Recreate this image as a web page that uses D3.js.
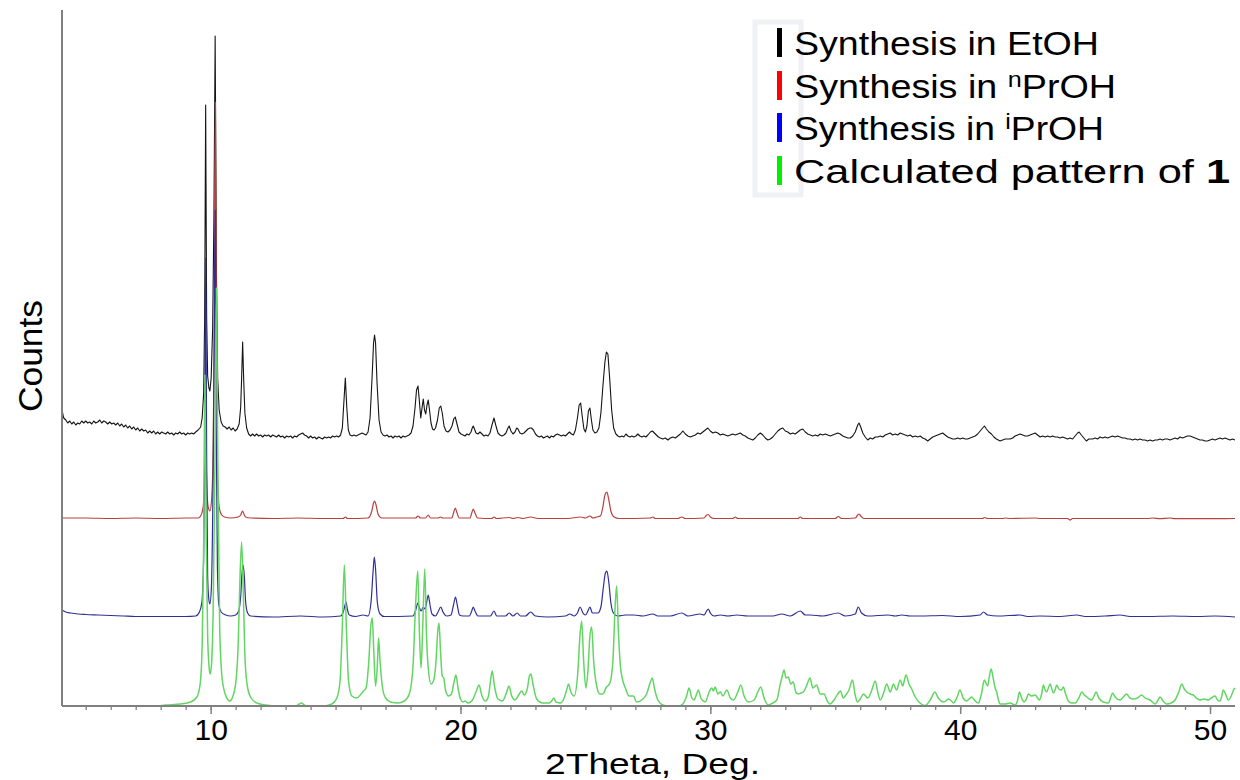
<!DOCTYPE html>
<html>
<head>
<meta charset="utf-8">
<script src="https://cdn.jsdelivr.net/npm/d3@7"></script>
<style>
  html, body { margin: 0; padding: 0; background: #fff; }
  svg { display: block; font-family: "Liberation Sans", Arial, sans-serif; }
</style>
</head>
<body>
<svg id="chart" width="1240" height="780"></svg>
<script>
// Powder XRD patterns: [2theta (deg), intensity above the pattern's own baseline]
const etohPattern = [
[4.05,30],[4.08,24],[4.12,20],[4.2,18],[4.28,15],[4.36,17],[4.44,14],[4.52,16],[4.6,13],[4.68,15],[4.76,14],[4.84,17],[4.92,15],[5.0,17],[5.08,15],[5.16,16],[5.24,14],[5.32,17],[5.4,15],[5.48,16],[5.56,18],[5.64,15],[5.72,17],[5.8,16],[5.88,14],[5.96,16],[6.04,14],[6.12,15],[6.2,13],[6.28,15],[6.36,12],[6.44,14],[6.52,11],[6.6,13],[6.68,10],[6.76,12],[6.84,9],[6.92,11],[7.0,8],[7.08,10],[7.16,7],[7.24,9],[7.32,7],[7.4,8],[7.48,5],[7.56,7],[7.64,5],[7.72,7],[7.8,4],[7.88,6],[7.96,4],[8.04,6],[8.12,5],[8.2,4],[8.28,6],[8.36,4],[8.44,5],[8.52,3],[8.6,5],[8.68,4],[8.76,6],[8.84,4],[8.92,5],[9.0,3],[9.08,5],[9.16,4],[9.24,5],[9.32,4],[9.4,6],[9.5,8],[9.6,11],[9.66,20],[9.72,45],[9.76,120],[9.8,333],[9.84,120],[9.88,62],[9.93,50],[9.97,47],[10.02,60],[10.08,110],[10.13,220],[10.18,402],[10.23,170],[10.28,60],[10.34,28],[10.42,16],[10.5,12],[10.58,11],[10.66,9],[10.74,11],[10.82,8],[10.9,10],[10.98,7],[11.06,9],[11.14,14],[11.2,30],[11.24,60],[11.28,96],[11.32,60],[11.37,25],[11.44,10],[11.52,4],[11.6,2],[11.68,4],
[11.76,2],[11.84,4],[11.92,2],[12.0,3],[12.08,1],[12.16,3],[12.24,2],[12.32,3],[12.4,1],[12.48,3],[12.56,2],[12.64,1],[12.72,3],[12.8,1],[12.88,2],[12.96,0],[13.04,2],[13.12,1],[13.2,2],[13.28,0],[13.36,2],[13.44,1],[13.52,3],[13.6,4],[13.68,5],[13.76,3],[13.84,2],[13.92,0],[14.0,2],[14.08,0],[14.16,1],[14.24,-1],[14.32,1],[14.4,0],[14.48,-1],[14.56,1],[14.64,0],[14.72,1],[14.8,0],[14.88,2],[14.96,1],[15.04,2],[15.12,1],[15.2,3],[15.27,10],[15.33,35],[15.39,60],[15.45,30],[15.51,8],[15.58,3],[15.66,2],[15.74,3],[15.82,2],[15.9,3],[15.98,4],[16.06,5],[16.14,4],[16.22,3],[16.3,6],[16.38,20],[16.46,60],[16.52,95],[16.56,103],[16.6,95],[16.66,55],[16.74,18],[16.82,6],[16.9,3],[16.98,2],[17.06,3],[17.14,1],[17.22,2],[17.3,0],[17.38,2],[17.46,1],[17.54,2],[17.62,0],[17.7,2],[17.78,1],[17.86,2],[17.94,3],[18.02,5],[18.1,12],[18.18,30],[18.24,48],[18.3,52],[18.36,35],[18.41,20],[18.46,30],[18.51,39],[18.56,28],[18.61,24],[18.66,33],[18.71,38],[18.76,28],[18.82,15],[18.88,9],[18.94,8],[19.0,10],[19.08,18],[19.15,30],[19.21,32],[19.27,25],[19.34,12],[19.42,7],[19.5,6],[19.58,8],[19.66,12],[19.73,19],[19.79,21],[19.86,14],[19.94,6],[20.02,4],[20.1,3],[20.18,2],[20.26,4],[20.34,3],[20.42,6],[20.47,10],[20.51,12],[20.56,9],[20.62,5],[20.7,4],[20.78,6],[20.86,4],[20.94,2],[21.02,3],[21.1,2],[21.18,5],[21.26,13],[21.34,20],[21.41,13],[21.5,5],[21.58,3],[21.66,2],[21.74,3],[21.82,5],[21.9,10],[21.95,12],[22.02,7],[22.1,4],[22.18,6],[22.25,10],[22.3,9],[22.38,5],[22.46,4],[22.54,5],[22.62,7],[22.7,9],[22.78,10],[22.84,10],[22.92,8],[23.0,4],[23.08,2],[23.16,1],[23.24,2],[23.32,0],[23.4,1],[23.48,2],[23.56,0],[23.64,2],[23.72,1],[23.8,3],[23.88,4],[23.96,3],[24.04,2],[24.12,3],[24.2,2],[24.28,4],[24.36,6],[24.44,4],[24.52,3],[24.6,8],[24.68,20],[24.75,33],[24.81,35],[24.87,22],[24.94,9],[25.0,6],[25.06,12],[25.12,27],[25.18,30],[25.24,18],[25.3,8],[25.38,5],[25.46,6],[25.54,10],[25.62,25],[25.7,52],[25.78,76],[25.84,86],[25.9,84],[25.97,60],[26.05,28],[26.13,10],[26.22,4],[26.3,2],[26.38,1],[26.46,2],[26.54,1],[26.62,4],[26.7,2],[26.78,1],[26.86,2],[26.94,1],[27.02,2],[27.1,4],[27.18,2],[27.26,1],[27.34,2],[27.42,1],[27.5,3],[27.6,6],[27.68,7],[27.76,5],[27.84,3],[27.92,1],
[28.0,0],[28.1,-1],[28.2,0],[28.3,-2],[28.4,0],[28.5,1],[28.6,0],[28.7,2],[28.8,4],[28.9,7],[29.0,4],[29.1,2],[29.2,1],[29.3,2],[29.4,3],[29.5,5],[29.6,4],[29.7,6],[29.8,8],[29.9,10],[30.0,7],[30.1,5],[30.2,6],[30.3,5],[30.4,3],[30.5,4],[30.6,3],[30.7,2],[30.8,3],[30.9,4],[31.0,3],[31.1,4],[31.2,5],[31.3,3],[31.4,2],[31.5,0],[31.6,-1],[31.7,-2],[31.8,0],[31.9,3],[32.0,5],[32.1,3],[32.2,0],[32.3,-2],[32.4,-1],[32.5,1],[32.6,4],[32.7,7],[32.8,9],[32.9,10],[33.0,7],[33.1,6],[33.2,4],[33.3,5],[33.4,4],[33.5,6],[33.6,8],[33.7,9],[33.8,6],[33.9,4],[34.0,3],[34.1,2],[34.2,3],[34.3,2],[34.4,4],[34.5,3],[34.6,4],[34.7,3],[34.8,2],[34.9,3],[35.0,4],[35.1,5],[35.2,4],[35.3,2],[35.4,1],[35.5,0],[35.6,0],[35.7,2],[35.8,6],[35.9,13],[35.95,15],[36.02,11],[36.1,5],[36.2,1],[36.3,-2],[36.4,0],[36.5,-1],[36.6,1],[36.7,1],[36.8,2],[36.9,1],[37.0,3],[37.1,4],[37.2,5],[37.3,3],[37.4,4],[37.5,3],[37.6,5],[37.7,4],[37.8,3],[37.9,2],[38.0,3],[38.1,1],[38.2,2],[38.3,1],[38.4,2],[38.5,0],[38.6,-1],[38.7,-3],[38.8,-1],[38.9,1],[39.0,2],[39.1,3],[39.2,4],[39.3,5],[39.4,3],[39.5,1],[39.6,0],[39.7,-1],[39.8,-1],[39.9,0],[40.0,-1],[40.1,0],[40.2,-1],[40.3,-1],[40.4,0],[40.5,1],[40.6,2],[40.7,4],[40.8,7],[40.9,10],[40.97,12],[41.05,9],[41.15,6],[41.25,4],[41.35,1],[41.45,-1],[41.6,-3],[41.7,-2],[41.8,-1],[41.9,-1],[42.0,-1],[42.1,0],[42.2,2],[42.3,3],[42.4,4],[42.5,3],[42.6,2],[42.7,2],[42.8,3],[42.9,4],[43.0,5],[43.1,3],[43.2,1],[43.3,2],[43.4,1],[43.5,2],[43.6,1],[43.7,2],[43.8,1],[43.9,1],[44.0,0],[44.1,1],[44.2,0],[44.3,-1],[44.4,0],[44.5,-1],[44.6,2],[44.7,5],[44.76,6],[44.85,3],[44.95,0],[45.05,-3],[45.15,-1],[45.3,-1],[45.4,0],[45.5,-1],[45.6,1],[45.7,0],[45.8,1],[45.9,0],[46.0,1],[46.1,2],[46.2,1],[46.3,2],[46.4,1],[46.5,0],[46.6,0],[46.7,-1],[46.8,-1],[46.9,-2],[47.0,-1],[47.1,-2],[47.2,-1],[47.3,-2],[47.4,-2],[47.5,-3],[47.6,-2],[47.7,-3],[47.8,-2],[47.9,-2],[48.0,-1],[48.1,-2],[48.2,-1],[48.3,-1],[48.4,-2],[48.5,-1],[48.6,0],[48.7,-1],[48.8,1],[48.9,0],[49.0,1],[49.1,2],[49.2,2],[49.3,1],[49.4,0],[49.5,-1],[49.6,-2],[49.7,-2],[49.8,-3],[49.9,-3],[50.0,-2],[50.1,-1],[50.2,-2],[50.3,-1],[50.4,0],[50.5,-1],[50.6,0],[50.7,-1],[50.8,-2],[50.9,-1],[51.0,-2]
];

const nproPattern = [
[4.05,1],[5,1],[6,0.5],[7,1],[8,0.5],[9,1],[9.5,1],[9.6,3],[9.7,12],[9.76,40],[9.8,71],[9.85,30],[9.9,12],[9.97,8],[10.04,20],[10.1,70],[10.15,200],[10.19,417],[10.23,180],[10.28,40],[10.34,12],[10.42,5],[10.55,2],[10.8,1],[11.1,2],[11.2,4],[11.25,7],[11.28,8],[11.33,5],[11.4,2],[11.6,1],[12.5,0.5],[13.5,1],[14.5,0.5],[15.3,0.5],[15.39,2],[15.48,0.5],[16.3,1],[16.45,8],[16.52,16],[16.56,18],[16.62,14],[16.7,5],[16.85,1],[18.2,1],[18.3,3],[18.4,1],[18.6,1],[18.71,4],[18.8,1],[19.1,1],[19.2,2],[19.3,1],[19.65,1],[19.73,7],[19.79,11],[19.85,7],[19.95,1],[20.38,1],[20.45,6],[20.51,10],[20.58,6],[20.68,1],[21.25,0.5],[21.34,2],[21.45,0.5],[21.95,1.5],[22.1,0.5],[22.3,1.5],[22.5,0.5],[22.81,2],[23.1,0.5],[24.3,0.5],[24.8,2],[25.0,1],[25.18,3],[25.3,1],[25.45,2],[25.6,3],[25.7,12],[25.78,24],[25.86,27],[25.93,20],[26.02,8],[26.15,2],[26.35,0.5],[27.6,1],[27.7,2],[27.8,0.5],[28.7,0.5],[28.85,2],[29.0,0.5],[29.75,1],[29.85,4],[29.92,4.5],[30.0,2],[30.15,0.5],[30.9,0.5],[31.0,2],[31.1,0.5],[33.5,0.5],[33.6,2],[33.7,0.5],[35.0,0.5],[35.12,2.5],[35.25,0.5],[35.8,1],[35.9,4],[35.95,5],[36.02,3],[36.15,0.5],[38.0,0.5],[40.9,0.5],[40.97,1.5],[41.1,0.5],[41.7,0.5],[41.8,1],[42.0,0.5],[43.0,1],[43.2,0.5],[44.3,0.5],[44.4,-1],[44.5,0.5],[47.5,0.5],[47.7,1],[48.0,0.3],[48.4,1],[48.6,0.3],[51.0,0.5]
];

const iproPattern = [
[4.05,7],[4.2,5],[4.4,4],[4.7,3],[5.0,2.5],[5.5,2],[6,1.5],[6.5,1],[7,0.5],[8,0.5],[9,0.5],[9.4,1],[9.55,5],[9.65,15],[9.72,60],[9.77,200],[9.8,359],[9.84,160],[9.88,40],[9.93,17],[9.97,13],[10.03,30],[10.09,120],[10.14,260],[10.18,407],[10.22,200],[10.27,50],[10.33,12],[10.42,5],[10.6,2],[10.8,1],[11.0,2],[11.12,6],[11.2,20],[11.26,45],[11.3,52],[11.35,40],[11.4,15],[11.48,4],[11.6,1],[12.5,0],[13.6,1],[14.5,0],[15.2,1],[15.32,6],[15.38,12],[15.42,15],[15.47,8],[15.55,2],[15.8,0.5],[16.1,2],[16.3,1],[16.42,15],[16.5,45],[16.55,60],[16.6,48],[16.67,15],[16.78,3],[16.95,0.5],[18.1,1],[18.22,8],[18.29,14],[18.36,9],[18.43,6],[18.51,10],[18.58,8],[18.64,14],[18.71,22],[18.78,12],[18.86,3],[19.0,1],[19.1,5],[19.21,10],[19.3,5],[19.45,1],[19.62,2],[19.72,12],[19.8,20],[19.87,12],[19.96,2],[20.1,1],[20.35,1],[20.45,6],[20.51,10],[20.58,6],[20.7,1],[21.2,1],[21.34,6],[21.45,1],[21.8,1],[21.95,4],[22.1,1],[22.27,4],[22.4,1],[22.6,1],[22.81,5],[23.0,1],[23.5,0],[24.2,1],[24.38,3],[24.55,1],[24.68,4],[24.79,10],[24.9,4],[25.0,2],[25.1,6],[25.18,10],[25.28,4],[25.4,4],[25.5,4],[25.62,10],[25.72,30],[25.8,44],[25.86,46],[25.93,36],[26.02,14],[26.12,4],[26.3,1],[26.6,2],[26.95,2],[27.3,1],[27.7,3],[27.9,1],[28.4,1],[28.86,4],[29.1,1],[29.59,3],[29.75,2],[29.85,6],[29.92,8],[30.0,4],[30.15,1],[30.4,2],[30.7,1],[31.06,2],[31.5,1],[31.99,1],[32.5,1],[32.86,3],[33.2,1],[33.6,6],[33.8,2],[33.99,2],[34.5,1],[35.12,4],[35.4,1],[35.8,3],[35.92,10],[36.05,4],[36.3,1],[37.12,2],[37.4,1],[37.66,2],[38.0,1],[38.4,1],[39.3,1.5],[40.0,0.5],[40.8,2],[40.93,5],[41.1,2],[41.5,1],[42.4,2],[42.7,0.5],[43.2,1],[44.0,0.5],[44.67,2],[45.0,0.5],[45.8,1],[46.4,2],[46.8,0.5],[47.5,0.5],[48.5,1],[49.5,0.5],[50.2,1],[51.0,0]
];

const calcPattern = [
[4.05,0],[7.8,0],[8.2,1],[8.8,2],[9.2,4],[9.45,9],[9.58,22],[9.66,60],[9.72,160],[9.77,331],[9.82,170],[9.88,70],[9.94,38],[9.98,32],[10.03,40],[10.1,95],[10.17,240],[10.23,418],[10.29,230],[10.36,80],[10.45,30],[10.58,12],[10.7,6],[10.77,5],[10.88,9],[11.0,22],[11.1,60],[11.17,125],[11.24,164],[11.31,110],[11.38,45],[11.48,18],[11.62,8],[11.85,3],[12.2,1],[12.7,0],[13.4,0],[13.55,2],[13.64,3],[13.74,1],[13.9,0],[14.5,0],[14.85,2],[15.05,8],[15.18,25],[15.27,80],[15.35,141],[15.43,80],[15.52,25],[15.65,10],[15.85,8],[16.02,12],[16.12,15],[16.22,18],[16.33,45],[16.41,80],[16.47,88],[16.53,55],[16.6,20],[16.67,40],[16.72,68],[16.78,45],[16.88,18],[17.0,8],[17.2,4],[17.5,3],[17.75,5],[17.95,12],[18.1,40],[18.2,100],[18.29,135],[18.36,70],[18.42,38],[18.49,80],[18.57,137],[18.64,70],[18.72,35],[18.82,22],[18.92,25],[19.02,45],[19.09,75],[19.14,83],[19.2,55],[19.27,30],[19.33,28],[19.4,16],[19.52,10],[19.64,12],[19.74,24],[19.82,31],[19.9,18],[20.0,7],[20.1,4],[20.18,5],[20.3,3],[20.45,5],[20.62,14],[20.74,21],[20.86,10],[21.0,5],[21.12,10],[21.2,25],[21.27,35],[21.36,20],[21.5,7],[21.68,5],[21.85,14],[21.94,20],[22.05,10],[22.18,6],[22.35,12],[22.45,15],[22.55,11],[22.68,18],[22.76,30],[22.82,32],[22.9,22],[23.05,7],[23.3,3],[23.55,3],[23.68,6],[23.74,8],[23.82,4],[24.0,3],[24.15,8],[24.27,18],[24.32,22],[24.42,14],[24.55,10],[24.7,35],[24.78,70],[24.85,85],[24.93,45],[25.02,18],[25.1,35],[25.18,70],[25.25,79],[25.33,45],[25.45,20],[25.58,12],[25.7,12],[25.82,18],[25.98,23],[26.1,45],[26.19,100],[26.25,120],[26.32,75],[26.4,40],[26.5,25],[26.6,18],[26.75,10],[26.92,10],[27.05,4],[27.25,6],[27.45,12],[27.6,24],[27.68,28],[27.76,18],[27.9,6],[28.1,1],[28.3,0],[28.7,0],[28.9,2],[29.05,10],[29.15,18],[29.26,8],[29.35,6],[29.45,12],[29.52,16],[29.62,8],[29.8,4],[29.95,14],[30.06,18],[30.12,15],[30.19,19],[30.3,12],[30.4,14],[30.5,10],[30.66,16],[30.8,8],[30.93,6],[31.1,14],[31.22,21],[31.35,10],[31.53,4],[31.75,6],[31.9,14],[32.02,19],[32.15,8],[32.32,1],[32.5,3],[32.66,6],[32.8,22],[32.88,30],[32.95,36],[33.03,28],[33.12,29],[33.22,22],[33.32,24],[33.42,14],[33.52,12],[33.62,13],[33.72,14],[33.85,20],[33.99,28],[34.1,18],[34.25,21],[34.4,12],[34.55,12],[34.68,5],[34.79,2],[34.95,6],[35.1,12],[35.21,15],[35.32,8],[35.42,11],[35.55,16],[35.69,26],[35.79,12],[35.89,4],[36.0,7],[36.13,12],[36.3,8],[36.45,15],[36.6,25],[36.7,14],[36.8,6],[36.95,14],[37.06,22],[37.2,14],[37.33,22],[37.45,16],[37.6,26],[37.7,20],[37.83,31],[37.95,22],[38.06,17],[38.2,9],[38.39,3],[38.59,0.5],[38.8,6],[38.99,14],[39.1,9],[39.19,6],[39.35,4],[39.53,7],[39.65,5],[39.73,3],[39.88,9],[39.99,16],[40.12,8],[40.26,5],[40.36,7],[40.46,9],[40.6,5],[40.73,3],[40.85,12],[40.97,26],[41.05,22],[41.1,20],[41.17,30],[41.24,37],[41.32,28],[41.4,18],[41.46,14],[41.53,6],[41.6,2],[41.8,2],[42.0,3],[42.2,1],[42.3,6],[42.37,14],[42.46,8],[42.56,4],[42.65,7],[42.73,12],[42.85,10],[43.0,11],[43.1,8],[43.17,6],[43.26,12],[43.33,21],[43.4,16],[43.46,14],[43.53,18],[43.6,22],[43.67,17],[43.73,13],[43.8,16],[43.86,21],[43.95,17],[44.05,16],[44.13,19],[44.22,12],[44.33,5],[44.45,3],[44.6,3],[44.75,8],[44.87,14],[44.97,11],[45.07,9],[45.17,7],[45.27,6],[45.36,10],[45.44,14],[45.55,8],[45.73,4],[45.93,3],[46.02,8],[46.1,13],[46.2,9],[46.4,6],[46.53,9],[46.66,12],[46.8,8],[46.93,7],[47.1,8],[47.26,11],[47.4,8],[47.6,6],[47.8,2],[47.92,6],[48.0,9],[48.12,5],[48.26,2],[48.45,3],[48.6,6],[48.75,14],[48.87,22],[48.97,17],[49.07,14],[49.2,12],[49.33,11],[49.45,8],[49.6,6],[49.75,7],[49.93,6],[50.05,8],[50.2,10],[50.3,6],[50.4,5],[50.47,10],[50.53,16],[50.62,12],[50.73,6],[50.85,10],[50.94,16],[51.0,18]
];

// Vertical stacking offset of each pattern (counts)
const stackOffsets = [268, 187, 89, 0];
const seriesNames = ["Synthesis in EtOH", "Synthesis in nPrOH", "Synthesis in iPrOH", "Calculated pattern of 1"];
const majorTicks = [10, 20, 30, 40, 50];
const minorTicks = d3.range(5, 51, 1);

const lineColors = ["#151515", "#b8403f", "#2f2f96", "#62d662"];
const legendColors = ["#000000", "#ff0000", "#0000ff", "#00ee00"];

const svg = d3.select("#chart");
const margin = { left: 62, right: 5, top: 10, bottom: 74 };
const W = 1240, H = 780;

const x = d3.scaleLinear().domain([4.05, 51]).range([margin.left, W - margin.right]);
const y = d3.scaleLinear().domain([0, 696]).range([H - margin.bottom, margin.top]);

const patterns = [etohPattern, nproPattern, iproPattern, calcPattern];
const curves = [d3.curveLinear, d3.curveMonotoneX, d3.curveMonotoneX, d3.curveMonotoneX];
const widths = [1.1, 1.2, 1.2, 1.5];

const plot = svg.append("g");
patterns.forEach((pts, i) => {
  const line = d3.line()
    .x(d => x(d[0]))
    .y(d => y(d[1] + stackOffsets[i]))
    .curve(curves[i]);
  plot.append("path")
    .datum(pts)
    .attr("fill", "none")
    .attr("stroke", lineColors[i])
    .attr("stroke-width", widths[i])
    .attr("stroke-linejoin", "round")
    .attr("d", line);
});

// Axes
const axisColor = "#808080";
const xMinor = d3.axisBottom(x).tickValues(minorTicks).tickSize(4).tickFormat("");
const xMajor = d3.axisBottom(x).tickValues(majorTicks).tickSize(8).tickFormat(d3.format("d"));

const gMinor = svg.append("g").attr("transform", `translate(0,${y(0)})`).call(xMinor);
gMinor.select(".domain").remove();
gMinor.selectAll("line").attr("stroke", axisColor).attr("stroke-width", 1.3);

const gMajor = svg.append("g").attr("transform", `translate(0,${y(0)})`).call(xMajor);
gMajor.select(".domain").remove();
gMajor.selectAll("line").attr("stroke", axisColor).attr("stroke-width", 1.5);
gMajor.selectAll("text")
  .attr("fill", "#000")
  .attr("font-size", 30)
  .attr("font-family", "Liberation Sans, Arial, sans-serif")
  .attr("y", 33.5)
  .attr("dy", 0);

svg.append("line")
  .attr("x1", x.range()[0]).attr("x2", x.range()[1])
  .attr("y1", y(0)).attr("y2", y(0))
  .attr("stroke", axisColor).attr("stroke-width", 2);
svg.append("line")
  .attr("x1", x.range()[0]).attr("x2", x.range()[0])
  .attr("y1", y(0)).attr("y2", y.range()[1])
  .attr("stroke", axisColor).attr("stroke-width", 2);

// Axis titles
svg.append("text")
  .attr("x", 545)
  .attr("y", 773.5)
  .attr("font-size", 30)
  .attr("textLength", 215)
  .attr("lengthAdjust", "spacingAndGlyphs")
  .text("2Theta, Deg.");

svg.append("text")
  .attr("transform", `translate(42,412) rotate(-90)`)
  .attr("font-size", 34)
  .attr("textLength", 112)
  .attr("lengthAdjust", "spacingAndGlyphs")
  .text("Counts");

// Legend
const legend = svg.append("g").attr("transform", "translate(777,0)");
legend.append("rect")
  .attr("x", -22).attr("y", 22).attr("width", 46).attr("height", 173)
  .attr("fill", "none").attr("stroke", "#f0f1f4").attr("stroke-width", 5);

const rowY = [55, 98, 140, 183];
const rowWidths = [305, 322, 310, 436];
seriesNames.forEach((name, i) => {
  legend.append("rect")
    .attr("x", 0).attr("y", rowY[i] - 27).attr("width", 5).attr("height", 29)
    .attr("fill", legendColors[i]);
  const t = legend.append("text")
    .attr("x", 17).attr("y", rowY[i])
    .attr("font-size", 33)
    .attr("fill", "#000")
    .attr("textLength", rowWidths[i])
    .attr("lengthAdjust", "spacingAndGlyphs");
  if (i === 1 || i === 2) {
    t.append("tspan").text("Synthesis in ");
    t.append("tspan").attr("font-size", 22).attr("dy", -11).text(i === 1 ? "n" : "i");
    t.append("tspan").attr("dy", 11).text("PrOH");
  } else if (i === 3) {
    t.append("tspan").text("Calculated pattern of ");
    t.append("tspan").attr("font-weight", "bold").text("1");
  } else {
    t.text(name);
  }
});
</script>
</body>
</html>
